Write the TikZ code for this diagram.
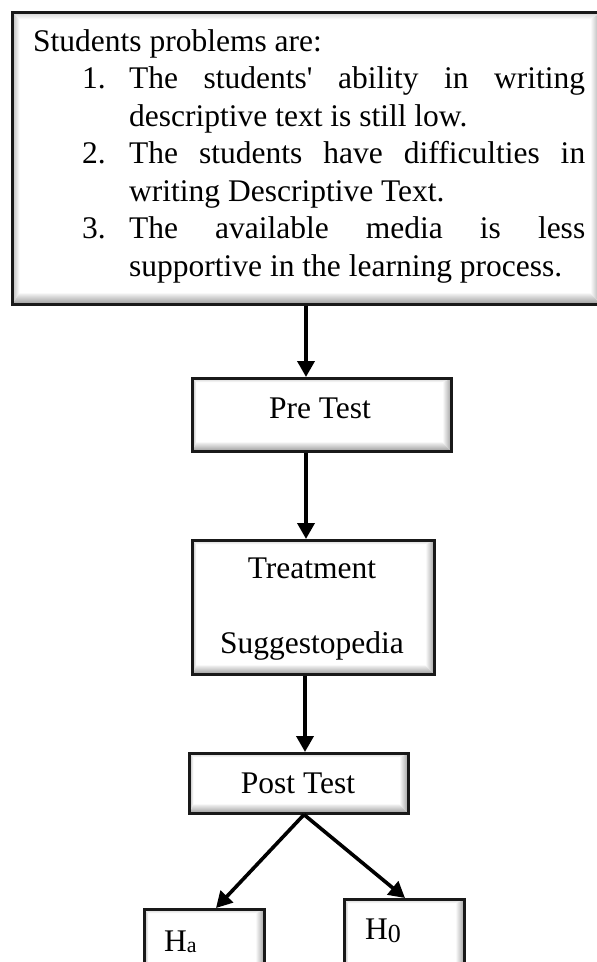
\documentclass[tikz,border=0pt]{standalone}
\usepackage{fontspec}
\newfontfamily\tnr{Liberation Serif}
\usetikzlibrary{arrows.meta}
\newcommand\bevelfill[2]{%
  \coordinate (bsw) at (path picture bounding box.south west);
  \coordinate (bne) at (path picture bounding box.north east);
  \coordinate (bnw) at (path picture bounding box.north west);
  \coordinate (bse) at (path picture bounding box.south east);
  \fill[white] (bsw) rectangle (bne);
  \shade[top color=gray!35, bottom color=white] (bnw) -- (bne) -- ([shift={(-#2,-#1)}]bne) -- ([shift={(#1,-#1)}]bnw) -- cycle;
  \shade[left color=gray!55, right color=white] (bnw) -- ([shift={(#1,-#1)}]bnw) -- ([shift={(#1,#2)}]bsw) -- (bsw) -- cycle;
  \shade[left color=white, right color=gray!75] (bne) -- ([shift={(-#2,-#1)}]bne) -- ([shift={(-#2,#2)}]bse) -- (bse) -- cycle;
  \shade[top color=gray!10, bottom color=gray!80] (bsw) -- ([shift={(#1,#2)}]bsw) -- ([shift={(-#2,#2)}]bse) -- (bse) -- cycle;
}
\begin{document}
\begin{tikzpicture}[x=1pt,y=1pt,
  bevelbox/.style n args={2}{draw=black!90, line width=2.6pt, inner sep=0pt, anchor=north west, path picture={\bevelfill{#1}{#2}}},
  lbl/.style={inner sep=0pt, anchor=base, font=\tnr\fontsize{31.5}{37.5}\selectfont},
  txt/.style={inner sep=0pt, anchor=base west, font=\tnr\fontsize{31.5}{37.5}\selectfont},
  arr/.style={line width=3.6pt, -{Triangle[length=16pt,width=17pt]}}]
\useasboundingbox (0,0) rectangle (597,-962);

% boxes
\node[bevelbox={7pt}{11pt}, minimum width=589pt, minimum height=292pt] (prob) at (11,-11) {};
\node[bevelbox={4pt}{9pt}, minimum width=259pt, minimum height=73pt] (pre) at (191,-377) {};
\node[bevelbox={4pt}{9pt}, minimum width=242pt, minimum height=134pt] (treat) at (191,-539) {};
\node[bevelbox={4pt}{9pt}, minimum width=219pt, minimum height=60pt] (post) at (188,-752) {};
\node[bevelbox={4pt}{9pt}, minimum width=120pt, minimum height=80pt] (ha) at (143,-908) {};
\node[bevelbox={4pt}{9pt}, minimum width=120pt, minimum height=90pt] (h0) at (343,-898) {};

% problem text
\node[txt] (t0) at (33,-51) {Students problems are:};
\node[txt] (n1) at (82,-88.5) {1.};
\node[txt] (l1) at (129,-88.5) {\makebox[456pt][s]{The students' ability in writing}};
\node[txt] (l2) at (129,-126) {descriptive text is still low.};
\node[txt] (n2) at (82,-163.5) {2.};
\node[txt] (l3) at (129,-163.5) {\makebox[456pt][s]{The students have difficulties in}};
\node[txt] (l4) at (129,-201) {writing Descriptive Text.};
\node[txt] (n3) at (82,-238.5) {3.};
\node[txt] (l5) at (129,-238.5) {\makebox[456pt][s]{The available media is less}};
\node[txt] (l6) at (129,-276) {supportive in the learning process.};

% box labels
\node[lbl] (tpre) at (320,-418) {Pre Test};
\node[lbl] (ttr1) at (312,-578) {Treatment};
\node[lbl] (ttr2) at (312,-653) {Suggestopedia};
\node[lbl] (tpost) at (298,-793) {Post Test};
\node[txt] (tha) at (164,-951) {H\raisebox{-1pt}{\fontsize{22}{22}\selectfont a}};
\node[txt] (th0) at (365,-939) {H\raisebox{-3pt}{\fontsize{26}{26}\selectfont 0}};

% connectors
\coordinate (ax) at (306,0);
\coordinate (bx) at (305,0);
\coordinate (cx) at (304,0);
\coordinate (hax) at (216,0);
\coordinate (h0x) at (405,0);
\draw[arr] (prob.south -| ax) -- (pre.north -| ax);
\draw[arr] (pre.south -| ax) -- (treat.north -| ax);
\draw[arr] (treat.south -| bx) -- (post.north -| bx);
\draw[arr] (post.south -| cx) -- (ha.north -| hax);
\draw[arr] (post.south -| cx) -- (h0.north -| h0x);
\end{tikzpicture}
\end{document}
